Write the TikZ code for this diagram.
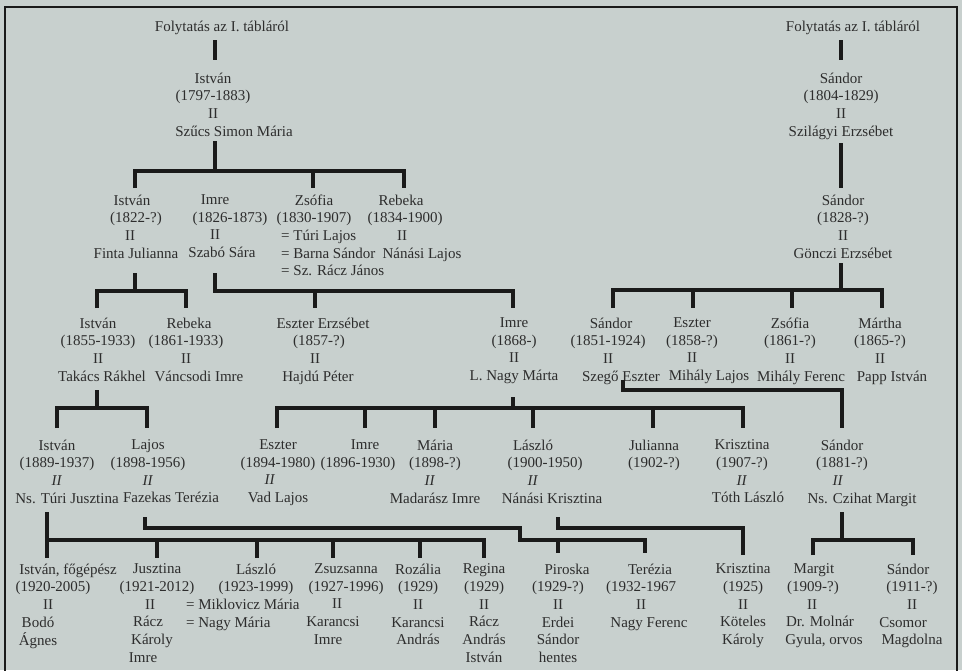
\documentclass[tikz,border=0pt]{standalone}
\usepackage{fontspec}
\setmainfont{Liberation Serif}
\definecolor{bg}{RGB}{200,208,206}
\definecolor{txt}{RGB}{45,45,45}
\definecolor{lin}{RGB}{26,26,26}
\newcommand{\fs}{\fontsize{15}{17.7}\selectfont}
\newcommand{\sh}[2]{\makebox[0pt]{\hspace*{#1}\hspace*{#1}#2}}
\newcommand{\ii}{\textit{II}}
\begin{document}
\begin{tikzpicture}[x=1pt,y=-1pt,
  per/.style={anchor=north,align=center,inner sep=0pt,font=\fs,text=txt,yshift=-2.5pt,execute at begin node=\strut},
  mar/.style={per,anchor=north west,align=left},
  lnk/.style={draw=lin,line width=3.8pt,line join=miter},
  frame/.style={draw=lin,line width=1.4pt}]
\fill[bg] (0,0) rectangle (962,670);
\useasboundingbox (0,0) rectangle (962,670);
\coordinate (fr1) at (5,672); \coordinate (fr2) at (5,7);
\coordinate (fr3) at (957,7); \coordinate (fr4) at (957,672);
\draw[frame] (fr1) -- (fr2) -- (fr3) -- (fr4);

% ---------- generation 1 ----------
\node[per] (fl1) at (222,16) {Folytatás az I. tábláról};
\node[per] (p1) at (213,70) {István\\(1797-1883)\\II\\\sh{21pt}{Szűcs Simon Mária}};
\node[per] (fl2) at (853,16) {Folytatás az I. tábláról};
\node[per] (r1) at (841,70) {Sándor\\(1804-1829)\\II\\Szilágyi Erzsébet};
\node[per] (r2) at (843,192) {Sándor\\(1828-?)\\II\\Gönczi Erzsébet};

% ---------- generation 2 ----------
\node[per] (g2a) at (136,192) {\sh{-4pt}{István}\\(1822-?)\\\sh{-6pt}{II}\\Finta Julianna};
\node[per] (g2b) at (230,192) {\sh{-15pt}{Imre}\\(1826-1873)\\\sh{-15pt}{II}\\\sh{-8pt}{Szabó Sára}};
\node[per] (g2c) at (314,192) {Zsófia\\(1830-1907)};
\node[mar] (g2cm) at (281,227.4) {= Túri Lajos\\= Barna Sándor\\= Sz. Rácz János};
\node[per] (g2d) at (405,192) {\sh{-4pt}{Rebeka}\\(1834-1900)\\\sh{-3pt}{II}\\\sh{17pt}{Nánási Lajos}};

% ---------- generation 3 ----------
\node[per] (g3a) at (98,315) {István\\(1855-1933)\\II\\\sh{4pt}{Takács Rákhel}};
\node[per] (g3b) at (186,315) {\sh{3pt}{Rebeka}\\(1861-1933)\\II\\\sh{13pt}{Váncsodi Imre}};
\node[per] (g3c) at (323,315) {Eszter Erzsébet\\\sh{-4pt}{(1857-?)}\\\sh{-8pt}{II}\\\sh{-5pt}{Hajdú Péter}};
\node[per] (g3d) at (514,315) {Imre\\(1868-)\\II\\L. Nagy Márta};
\node[per] (g3e) at (608,315) {\sh{3pt}{Sándor}\\(1851-1924)\\II\\\sh{13pt}{Szegő Eszter}};
\node[per] (g3f) at (692,315) {Eszter\\(1858-?)\\II\\\sh{17pt}{Mihály Lajos}};
\node[per] (g3g) at (790,315) {Zsófia\\(1861-?)\\II\\\sh{11pt}{Mihály Ferenc}};
\node[per] (g3h) at (880,315) {Mártha\\(1865-?)\\II\\\sh{12pt}{Papp István}};

% ---------- generation 4 ----------
\node[per] (g4a) at (57,437) {István\\(1889-1937)\\\ii\\\sh{10pt}{Ns. Túri Jusztina}};
\node[per] (g4b) at (148,437) {Lajos\\(1898-1956)\\\ii\\\sh{23pt}{Fazekas Terézia}};
\node[per] (g4c) at (278,437) {Eszter\\(1894-1980)\\\sh{-8pt}{\ii}\\Vad Lajos};
\node[per] (g4d) at (358,437) {\sh{7pt}{Imre}\\(1896-1930)};
\node[per] (g4e) at (435,437) {Mária\\(1898-?)\\\sh{-5pt}{\ii}\\Madarász Imre};
\node[per] (g4f) at (545,437) {\sh{-12pt}{László}\\(1900-1950)\\\sh{-12pt}{\ii}\\\sh{7pt}{Nánási Krisztina}};
\node[per] (g4g) at (654,437) {Julianna\\(1902-?)};
\node[per] (g4h) at (742,437) {Krisztina\\(1907-?)\\\ii\\\sh{6pt}{Tóth László}};
\node[per] (g4i) at (842,437) {Sándor\\(1881-?)\\\sh{-4pt}{\ii}\\\sh{20pt}{Ns. Czihat Margit}};

% ---------- generation 5 ----------
\node[per] (g5a) at (53,561) {\sh{15pt}{István, főgépész}\\(1920-2005)\\\sh{-5pt}{II}\\\sh{-15pt}{Bodó}\\\sh{-15pt}{Ágnes}};
\node[per] (g5b) at (157,561) {Jusztina\\(1921-2012)\\\sh{-7pt}{II}\\\sh{-9pt}{Rácz}\\\sh{-5pt}{Károly}\\\sh{-14pt}{Imre}};
\node[per] (g5c) at (256,561) {László\\(1923-1999)};
\node[mar] (g5cm) at (186,596.4) {= Miklovicz Mária\\= Nagy Mária};
\node[per] (g5d) at (346,561) {Zsuzsanna\\(1927-1996)\\\sh{-9pt}{II}\\\sh{-13pt}{Karancsi}\\\sh{-18pt}{Imre}};
\node[per] (g5e) at (418,561) {Rozália\\(1929)\\II\\Karancsi\\András};
\node[per] (g5f) at (484,561) {Regina\\(1929)\\II\\Rácz\\András\\István};
\node[per] (g5g) at (558,561) {\sh{9pt}{Piroska}\\(1929-?)\\II\\Erdei\\Sándor\\hentes};
\node[per] (g5h) at (641,561) {\sh{9pt}{Terézia}\\(1932-1967\\II\\\sh{8pt}{Nagy Ferenc}};
\node[per] (g5i) at (743,561) {Krisztina\\(1925)\\II\\Köteles\\Károly};
\node[per] (g5j) at (820,561) {\sh{-6pt}{Margit}\\\sh{-7pt}{(1909-?)}\\\sh{-8pt}{II}\\Dr. Molnár\\\sh{4pt}{Gyula, orvos}};
\node[per] (g5k) at (912,561) {\sh{-4pt}{Sándor}\\(1911-?)\\II\\\sh{-9pt}{Csomor}\\Magdolna};

% ---------- connector points ----------
% left top
\coordinate (a1) at (215,40);  \coordinate (a2) at (215,60);
\coordinate (a3) at (215,141); \coordinate (a4) at (215,171);
\coordinate (a5) at (135,188); \coordinate (a6) at (135,171);
\coordinate (a7) at (404,171); \coordinate (a8) at (404,188);
\coordinate (a9) at (313,171); \coordinate (a10) at (313,188);
% right top
\coordinate (b1) at (841,40);  \coordinate (b2) at (841,60);
\coordinate (b3) at (841,143); \coordinate (b4) at (841,188);
\coordinate (b5) at (841,263); \coordinate (b6) at (841,290);
\coordinate (b7) at (613,308); \coordinate (b8) at (613,290);
\coordinate (b9) at (882,290); \coordinate (b10) at (882,308);
\coordinate (b11) at (693,290); \coordinate (b12) at (693,308);
\coordinate (b13) at (792,290); \coordinate (b14) at (792,308);
% gen 2 -> 3
\coordinate (c1) at (135,273); \coordinate (c2) at (135,291);
\coordinate (c3) at (97,308);  \coordinate (c4) at (97,291);
\coordinate (c5) at (186,291); \coordinate (c6) at (186,308);
\coordinate (c7) at (215,273); \coordinate (c8) at (215,291);
\coordinate (c9) at (513,291); \coordinate (c10) at (513,308);
\coordinate (c11) at (315,291); \coordinate (c12) at (315,308);
% gen 3 -> 4
\coordinate (d1) at (97,390);  \coordinate (d2) at (97,408);
\coordinate (d3) at (57,428);  \coordinate (d4) at (57,408);
\coordinate (d5) at (147,408); \coordinate (d6) at (147,428);
\coordinate (e1) at (513,397); \coordinate (e2) at (513,408);
\coordinate (e3) at (277,428); \coordinate (e4) at (277,408);
\coordinate (e5) at (743,408); \coordinate (e6) at (743,428);
\coordinate (e7) at (365,408); \coordinate (e8) at (365,428);
\coordinate (e9) at (435,408); \coordinate (e10) at (435,428);
\coordinate (e11) at (533,408); \coordinate (e12) at (533,428);
\coordinate (e13) at (653,408); \coordinate (e14) at (653,428);
\coordinate (s1) at (623,380); \coordinate (s2) at (623,390);
\coordinate (s3) at (842,390); \coordinate (s4) at (842,428);
% gen 4 -> 5
\coordinate (h1) at (47,512);  \coordinate (h2) at (47,558);
\coordinate (h3) at (47,540);  \coordinate (h4) at (484,540);
\coordinate (h5) at (484,558);
\coordinate (h6) at (157,540); \coordinate (h7) at (157,558);
\coordinate (h8) at (257,540); \coordinate (h9) at (257,558);
\coordinate (h10) at (333,540); \coordinate (h11) at (333,558);
\coordinate (h12) at (420,540); \coordinate (h13) at (420,558);
\coordinate (k1) at (145,517); \coordinate (k2) at (145,528);
\coordinate (k3) at (520,528); \coordinate (k4) at (520,540);
\coordinate (k5) at (645,540); \coordinate (k6) at (645,553);
\coordinate (k7) at (558,540); \coordinate (k8) at (558,553);
\coordinate (m1) at (558,517); \coordinate (m2) at (558,528);
\coordinate (m3) at (743,528); \coordinate (m4) at (743,555);
\coordinate (n1) at (842,512); \coordinate (n2) at (842,540);
\coordinate (n3) at (813,555); \coordinate (n4) at (813,540);
\coordinate (n5) at (913,540); \coordinate (n6) at (913,555);

% ---------- connectors ----------
\draw[lnk] (a1) -- (a2);
\draw[lnk] (a3) -- (a4);
\draw[lnk] (a5) -- (a6) -- (a7) -- (a8);
\draw[lnk] (a9) -- (a10);
\draw[lnk] (b1) -- (b2);
\draw[lnk] (b3) -- (b4);
\draw[lnk] (b5) -- (b6);
\draw[lnk] (b7) -- (b8) -- (b9) -- (b10);
\draw[lnk] (b11) -- (b12);
\draw[lnk] (b13) -- (b14);
\draw[lnk] (c1) -- (c2);
\draw[lnk] (c3) -- (c4) -- (c5) -- (c6);
\draw[lnk] (c7) -- (c8) -- (c9) -- (c10);
\draw[lnk] (c11) -- (c12);
\draw[lnk] (d1) -- (d2);
\draw[lnk] (d3) -- (d4) -- (d5) -- (d6);
\draw[lnk] (e1) -- (e2);
\draw[lnk] (e3) -- (e4) -- (e5) -- (e6);
\draw[lnk] (e7) -- (e8);
\draw[lnk] (e9) -- (e10);
\draw[lnk] (e11) -- (e12);
\draw[lnk] (e13) -- (e14);
\draw[lnk] (s1) -- (s2) -- (s3) -- (s4);
\draw[lnk] (h1) -- (h2);
\draw[lnk] (h3) -- (h4) -- (h5);
\draw[lnk] (h6) -- (h7);
\draw[lnk] (h8) -- (h9);
\draw[lnk] (h10) -- (h11);
\draw[lnk] (h12) -- (h13);
\draw[lnk] (k1) -- (k2) -- (k3) -- (k4) -- (k5) -- (k6);
\draw[lnk] (k7) -- (k8);
\draw[lnk] (m1) -- (m2) -- (m3) -- (m4);
\draw[lnk] (n1) -- (n2);
\draw[lnk] (n3) -- (n4) -- (n5) -- (n6);
\end{tikzpicture}
\end{document}
